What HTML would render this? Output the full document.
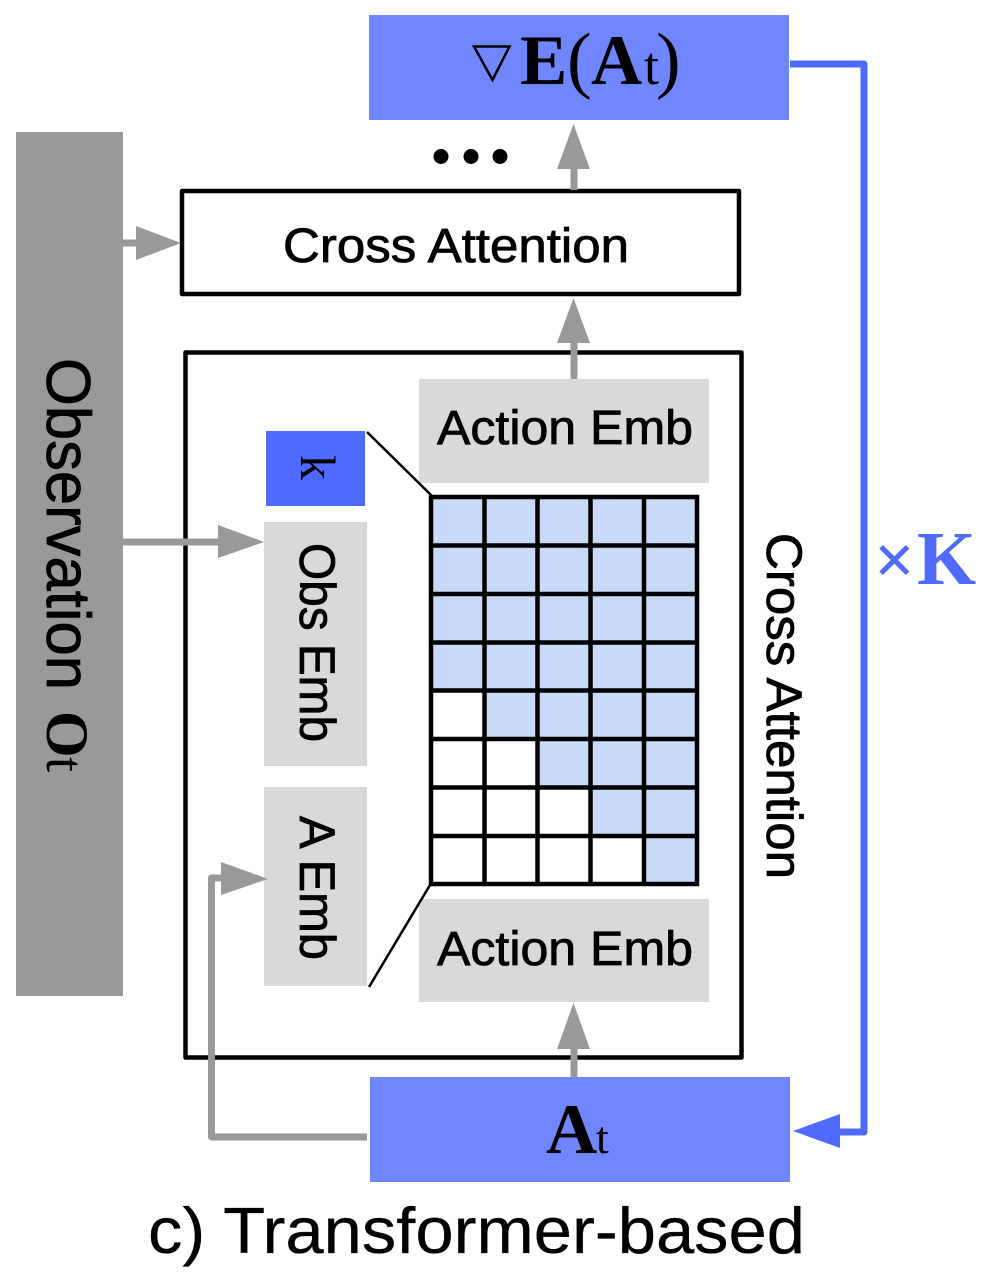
<!DOCTYPE html>
<html>
<head>
<meta charset="utf-8">
<style>
html,body{margin:0;padding:0;background:#fff;}
svg{display:block;}
.s{font-family:"Liberation Sans",sans-serif;fill:#000;stroke:#000;stroke-width:.8px;}
.r{font-family:"Liberation Serif",serif;}
</style>
</head>
<body>
<svg width="986" height="1274" viewBox="0 0 986 1274" xmlns="http://www.w3.org/2000/svg">
<rect x="369" y="15" width="420" height="105" fill="#7086ff"/>
<rect x="16" y="132" width="107" height="864" fill="#999"/>
<rect x="182" y="191" width="557" height="103" fill="#fff" stroke="#000" stroke-width="4.500" stroke-linejoin="round"/>
<rect x="185.500" y="352.500" width="556" height="705" fill="#fff" stroke="#000" stroke-width="4.500" stroke-linejoin="round"/>
<rect x="419" y="379" width="290" height="104" fill="#d9d9d9"/>
<rect x="419" y="899" width="290" height="103" fill="#d9d9d9"/>
<rect x="266" y="431" width="99" height="75" fill="#4f6bff"/>
<rect x="264" y="522" width="103" height="244" fill="#d9d9d9"/>
<rect x="264" y="787" width="103" height="199" fill="#d9d9d9"/>
<rect x="370" y="1077" width="420" height="105" fill="#7086ff"/>

<!-- grid cells -->
<path d="M431 497H697V884H644V836H590V787H537V739H484V690H431Z" fill="#c9daf8"/>
<g stroke="#000" stroke-width="4.500" fill="none">
<path d="M431 495V886M484.500 497V884M537.500 497V884M590.500 497V884M644 497V884M697 495V886"/>
<path d="M429 497H699M429 545.500H699M429 594H699M429 642.500H699M429 690.500H699M429 739H699M429 787.500H699M429 836H699M429 884H699"/>
</g>
<path d="M367 432L432 496M430 885L369 987" stroke="#000" stroke-width="2.500" fill="none"/>

<!-- gray arrows -->
<g stroke="#999" stroke-width="7" fill="none">
<path d="M574 190V165"/>
<path d="M574 379V340"/>
<path d="M574 1077V1045"/>
<path d="M123 243H140"/>
<path d="M123 542H222"/>
<path d="M367 1137H211.500V878H225" stroke-linejoin="round"/>
</g>
<g fill="#999">
<path d="M573.500 124L590 169H557Z"/>
<path d="M573.500 298L590 343H557Z"/>
<path d="M573.500 1003L590 1049H557Z"/>
<path d="M181 243L136 226V260Z"/>
<path d="M264 542L218 525V558Z"/>
<path d="M268 879L221 862V895Z"/>
</g>

<!-- blue loop -->
<path d="M790 64H864V1132H830" fill="none" stroke="#4f6bff" stroke-width="7" stroke-linejoin="round"/>
<path d="M793 1131L840 1114V1148Z" fill="#4f6bff"/>

<!-- dots -->
<circle cx="441" cy="156.500" r="7.500"/><circle cx="471" cy="156.500" r="7.500"/><circle cx="500" cy="156.500" r="7.500"/>

<!-- nabla, drawn as real shape -->
<path d="M474 46.500H509.500L492.500 80Z" fill="none" stroke="#000" stroke-width="2.500"/>
<text class="r" x="520" y="84" font-size="71" font-weight="bold">E</text>
<text class="r" x="567" y="84" font-size="74">(</text>
<text class="r" x="591" y="84" font-size="71" font-weight="bold">A</text>
<text class="r" x="644" y="84" font-size="54">t</text>
<text class="r" x="656" y="84" font-size="74">)</text>

<text class="r" x="546" y="1153" font-size="71" font-weight="bold">A</text>
<text class="r" x="596" y="1153" font-size="46">t</text>

<text class="s" x="283" y="262" font-size="48" textLength="346" lengthAdjust="spacingAndGlyphs">Cross Attention</text>
<text class="s" x="437" y="444" font-size="48" textLength="256" lengthAdjust="spacingAndGlyphs">Action Emb</text>
<text class="s" x="437" y="965" font-size="48" textLength="256" lengthAdjust="spacingAndGlyphs">Action Emb</text>
<text class="s" style="stroke-width:.3px" x="148" y="1253" font-size="65" textLength="657" lengthAdjust="spacingAndGlyphs">c) Transformer-based</text>

<text class="s" transform="translate(47,358) rotate(90)" font-size="62" textLength="332" lengthAdjust="spacingAndGlyphs">Observation</text>
<text class="r" transform="translate(47,711) rotate(90)" font-size="60" font-weight="bold">O</text>
<text class="r" transform="translate(47,757) rotate(90)" font-size="54">t</text>

<text class="s" transform="translate(300,543) rotate(90)" font-size="50" textLength="199" lengthAdjust="spacingAndGlyphs">Obs Emb</text>
<text class="s" transform="translate(300,816) rotate(90)" font-size="50" textLength="144" lengthAdjust="spacingAndGlyphs">A Emb</text>
<text class="s" transform="translate(767,533) rotate(90)" font-size="50" textLength="346" lengthAdjust="spacingAndGlyphs">Cross Attention</text>
<text class="r" transform="translate(301,455) rotate(90)" font-size="50">k</text>

<text class="r" x="874" y="584" font-size="72" font-weight="bold" fill="#4f6bff">×</text>
<text class="r" x="917" y="584" font-size="76" font-weight="bold" fill="#4f6bff">K</text>
</svg>
</body>
</html>
